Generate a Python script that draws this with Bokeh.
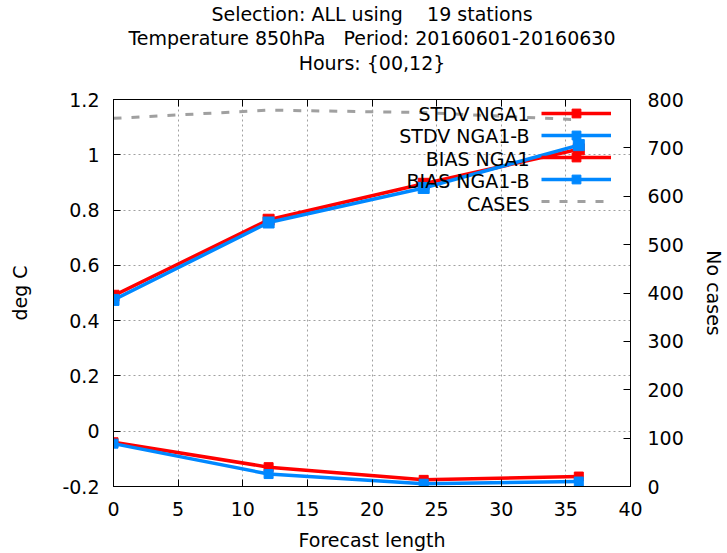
from bokeh.plotting import figure
from bokeh.models import (LinearAxis, Range1d, FixedTicker, Title, Legend, LegendItem, Label)
from bokeh.embed import file_html
from bokeh.resources import INLINE

# ---- data ----
lead = [0, 12, 24, 36]
stdv_nga1 = [0.49, 0.765, 0.895, 1.02]
stdv_nga1b = [0.475, 0.755, 0.88, 1.035]
bias_nga1 = [-0.04, -0.13, -0.176, -0.164]
bias_nga1b = [-0.045, -0.155, -0.19, -0.182]
cases = [761, 778, 773, 758]

x_ticks = [0, 5, 10, 15, 20, 25, 30, 35, 40]
y_ticks = [-0.2, 0, 0.2, 0.4, 0.6, 0.8, 1, 1.2]
y_tick_labels = ["-0.2", "0", "0.2", "0.4", "0.6", "0.8", "1", "1.2"]
y2_ticks = [0, 100, 200, 300, 400, 500, 600, 700, 800]

series_names = ["STDV NGA1", "STDV NGA1-B", "BIAS NGA1", "BIAS NGA1-B", "CASES"]
title_lines = ["Selection: ALL using\u00a0\u00a0\u00a0\u00a019 stations",
               "Temperature 850hPa\u00a0\u00a0\u00a0Period: 20160601-20160630",
               "Hours: {00,12}"]

FONT = "DejaVu Sans"
FS = "19px"
RED = "#ff0000"
BLUE = "#0088ff"
GRAY = "#a0a0a0"

p = figure(width=727, height=553, output_backend="svg", toolbar_location=None,
           x_range=Range1d(0, 40), y_range=Range1d(-0.2, 1.2),
           min_border_left=113, min_border_right=96, min_border_top=97, min_border_bottom=67)
p.extra_y_ranges = {"cases": Range1d(0, 800)}
p.outline_line_color = "black"
p.outline_line_width = 1
p.background_fill_color = "white"
p.border_fill_color = "white"

def style_axis(ax, ticks):
    ax.ticker = FixedTicker(ticks=ticks)
    ax.major_tick_in = 7
    ax.major_tick_out = 0
    ax.minor_tick_line_color = None
    ax.axis_line_color = "black"
    ax.major_tick_line_color = "black"
    ax.major_label_text_font = FONT
    ax.major_label_text_font_size = FS
    ax.major_label_text_color = "black"
    ax.axis_label_text_font = FONT
    ax.axis_label_text_font_size = FS
    ax.axis_label_text_font_style = "normal"
    ax.axis_label_text_color = "black"

xa = p.below[0]
ya = p.left[0]

# mirrored x ticks on top; its axis label carries the third title line
xtop = LinearAxis()
style_axis(xtop, x_ticks)
xtop.major_label_overrides = {t: "" for t in x_ticks}
xtop.major_label_text_font_size = "1px"
xtop.major_label_standoff = 0
xtop.axis_label = title_lines[2]
xtop.axis_label_standoff = 26
p.add_layout(xtop, "above")

# remaining title lines (later added -> further from plot)
for t in reversed(title_lines[:2]):
    p.add_layout(Title(text=t, align="center", text_font=FONT, text_font_size=FS,
                       text_font_style="normal", text_color="black",
                       standoff=0), "above")

style_axis(xa, x_ticks)
xa.axis_label = "Forecast length"
xa.major_label_standoff = 15
xa.axis_label_standoff = 10

style_axis(ya, y_ticks)
ya.major_label_overrides = dict(zip(y_ticks, y_tick_labels))
ya.axis_label = "deg C"
ya.major_label_standoff = 14
ya.axis_label_standoff = 28

y2 = LinearAxis(y_range_name="cases")
style_axis(y2, y2_ticks)
y2.axis_label = "No cases"
y2.major_label_standoff = 17
y2.axis_label_standoff = 16
p.add_layout(y2, "right")

for g in (p.xgrid[0], p.ygrid[0]):
    g.grid_line_color = GRAY
    g.grid_line_dash = "2 3"
    g.grid_line_width = 1
p.xgrid[0].ticker = FixedTicker(ticks=x_ticks)
p.ygrid[0].ticker = FixedTicker(ticks=y_ticks)

r1l = p.line(lead, stdv_nga1, color=RED, line_width=3.5)
r1m = p.scatter(lead, stdv_nga1, marker="square", size=11, color=RED)
r2l = p.line(lead, stdv_nga1b, color=BLUE, line_width=3.5)
r2m = p.scatter(lead, stdv_nga1b, marker="square", size=11, color=BLUE)
r3l = p.line(lead, bias_nga1, color=RED, line_width=3.5)
r3m = p.scatter(lead, bias_nga1, marker="square", size=9, color=RED)
r4l = p.line(lead, bias_nga1b, color=BLUE, line_width=3.5)
r4m = p.scatter(lead, bias_nga1b, marker="square", size=9, color=BLUE)
r5 = p.line(lead, cases, y_range_name="cases", color=GRAY, line_width=3, line_dash="8 10")

legend = Legend(items=[LegendItem(label=" ", renderers=[r1l, r1m]),
                       LegendItem(label=" ", renderers=[r2l, r2m]),
                       LegendItem(label=" ", renderers=[r3l, r3m]),
                       LegendItem(label=" ", renderers=[r4l, r4m]),
                       LegendItem(label=" ", renderers=[r5])],
                location=(428, 274), padding=0, margin=0, spacing=0,
                glyph_width=70, glyph_height=22, label_height=22, label_width=0,
                label_standoff=0, label_text_font_size="1px",
                border_line_color=None, background_fill_alpha=0)
p.add_layout(legend)

for i, name in enumerate(series_names):
    p.add_layout(Label(x=416, y=373 - 22.5 * i, x_units="screen", y_units="screen",
                       text=name, text_align="right", text_baseline="middle",
                       text_font=FONT, text_font_size=FS, text_color="black"))

open("out.html", "w").write(file_html(p, INLINE))
